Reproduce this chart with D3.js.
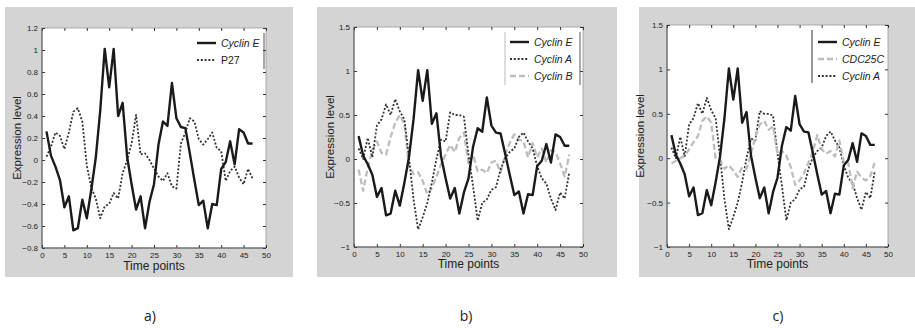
<!DOCTYPE html>
<html lang="en">
<head>
<meta charset="UTF-8">
<title>expression</title>
<script src="https://cdn.jsdelivr.net/npm/d3@7"></script>
<style>
  body { margin: 0; background: #fff; }
  svg { display: block; }
  text { font-family: "Liberation Sans", Arial, sans-serif; fill: #222; }
</style>
</head>
<body>
<svg width="915" height="328"></svg>
<script>
  // time index 1..47
  var timePoints = [1,2,3,4,5,6,7,8,9,10,11,12,13,14,15,16,17,18,19,20,21,22,23,24,25,26,27,28,29,30,
    31,32,33,34,35,36,37,38,39,40,41,42,43,44,45,46,47]

  var cyclinE = [0.26,0.04,-0.06,-0.18,-0.43,-0.33,-0.64,-0.62,-0.36,-0.53,-0.27,0.02,0.45,1.01,0.66,1.01,
    0.40,0.52,0.03,-0.22,-0.45,-0.33,-0.62,-0.38,-0.22,0.14,0.35,0.31,0.70,0.38,0.30,0.29,0.06,-0.18,
    -0.41,-0.37,-0.62,-0.40,-0.41,-0.08,-0.02,0.17,-0.04,0.28,0.25,0.15,0.15]

  var p27 = [0.03,0.12,0.25,0.22,0.10,0.25,0.44,0.47,0.35,-0.05,-0.25,-0.35,-0.53,-0.42,-0.40,-0.30,
    -0.35,-0.12,0.0,0.15,0.41,0.05,0.06,0.0,-0.08,-0.15,-0.19,-0.12,-0.24,-0.26,0.15,0.25,0.38,0.35,
    0.19,0.14,0.19,0.25,0.11,0.08,-0.19,-0.10,-0.06,-0.16,-0.22,-0.08,-0.17]

  var cyclinA = [0.12,0.0,0.24,0.02,0.38,0.45,0.62,0.50,0.68,0.54,0.45,0.02,-0.46,-0.80,-0.66,-0.50,
    -0.27,0.0,0.22,0.20,0.53,0.50,0.50,0.48,0.05,-0.31,-0.70,-0.50,-0.46,-0.35,-0.32,-0.12,0.01,0.08,
    0.12,0.25,0.30,0.20,0.12,-0.08,-0.22,-0.28,-0.45,-0.58,-0.38,-0.45,-0.15]

  var cyclinB = [-0.12,-0.36,-0.10,0.10,0.20,0.07,0.05,0.25,0.41,0.50,0.40,-0.08,-0.17,-0.15,-0.25,-0.40,
    -0.33,-0.20,-0.06,0.05,0.16,0.08,0.24,0.30,-0.05,0.05,-0.14,-0.12,-0.16,-0.04,-0.02,-0.15,0.05,0.18,
    0.28,0.22,0.20,0.02,0.18,0.02,0.12,-0.04,0.10,0.08,-0.05,-0.20,0.05]

  var cdc25c = [-0.06,-0.03,0.0,0.03,0.10,0.18,0.25,0.42,0.47,0.40,0.0,-0.02,-0.12,-0.08,-0.14,-0.21,
    -0.10,-0.12,0.05,0.24,0.38,0.42,0.32,0.36,0.05,0.08,0.03,-0.10,-0.30,-0.25,-0.17,-0.05,0.08,0.26,
    0.10,0.05,0.08,0.02,0.20,-0.05,-0.05,-0.34,-0.15,-0.22,-0.25,-0.20,-0.05]

  var xTicks = [0,5,10,15,20,25,30,35,40,45,50]
  var yTicksA = [-0.8,-0.6,-0.4,-0.2,0,0.2,0.4,0.6,0.8,1,1.2]
  var yTicksB = [-1,-0.5,0,0.5,1,1.5]

  var styles = {
    solid: {stroke: '#1a1a1a', width: 2.4, dash: null},
    dot:   {stroke: '#333', width: 1.8, dash: '2,1.8'},
    dash:  {stroke: '#bdbdbd', width: 2.3, dash: '6,3'}
  }

  var panels = [
    {bg: [5, 7, 288, 270], plot: [42, 28, 224, 220], yDomain: [-0.8, 1.2], yTicks: yTicksA,
     series: [['Cyclin E', cyclinE, 'solid', true], ['P27', p27, 'dot', false]],
     leg: {x: 197, y: 43, left: null, right: 264},
     xlabY: 258, titleY: 270, ylabX: 21, capX: 150},
    {bg: [317, 7, 300, 270], plot: [354, 27, 229, 220], yDomain: [-1, 1.5], yTicks: yTicksB,
     series: [['Cyclin E', cyclinE, 'solid', true], ['Cyclin A', cyclinA, 'dot', true], ['Cyclin B', cyclinB, 'dash', true]],
     leg: {x: 510, y: 42, left: 505, right: 580},
     xlabY: 254, titleY: 268, ylabX: 334, capX: 466},
    {bg: [639, 7, 276, 270], plot: [667, 25, 221, 222], yDomain: [-1, 1.5], yTicks: yTicksB,
     series: [['Cyclin E', cyclinE, 'solid', true], ['CDC25C', cdc25c, 'dash', true], ['Cyclin A', cyclinA, 'dot', true]],
     leg: {x: 818, y: 42, left: 812, right: null},
     xlabY: 254, titleY: 268, ylabX: 644, capX: 778}
  ]

  var svg = d3.select('svg')
  var fmt = d3.format('~g')

  panels.forEach(function (p, pi) {
    var g = svg.append('g')
    g.append('rect').attr('x', p.bg[0]).attr('y', p.bg[1]).attr('width', p.bg[2]).attr('height', p.bg[3])
      .attr('fill', '#d4d4d4')

    var px = p.plot[0], py = p.plot[1], pw = p.plot[2], ph = p.plot[3]
    var x = d3.scaleLinear().domain([0, 50]).range([px, px + pw])
    var y = d3.scaleLinear().domain(p.yDomain).range([py + ph, py])

    g.append('rect').attr('x', px).attr('y', py).attr('width', pw).attr('height', ph)
      .attr('fill', '#fff').attr('stroke', '#9a9a9a').attr('stroke-width', 0.8)

    // inward ticks on all four sides
    var axL = g.append('g').attr('transform', 'translate(' + px + ',0)')
      .call(d3.axisLeft(y).tickValues(p.yTicks).tickSize(-3).tickPadding(4).tickFormat(fmt))
    var axB = g.append('g').attr('transform', 'translate(0,' + (py + ph) + ')')
      .call(d3.axisBottom(x).tickValues(xTicks).tickSize(-3).tickPadding(5).tickFormat(fmt))
    var axR = g.append('g').attr('transform', 'translate(' + (px + pw) + ',0)')
      .call(d3.axisRight(y).tickValues(p.yTicks).tickSize(-3).tickFormat(''))
    var axT = g.append('g').attr('transform', 'translate(0,' + py + ')')
      .call(d3.axisTop(x).tickValues(xTicks).tickSize(-3).tickFormat(''))
    ;[axL, axB, axR, axT].forEach(function (a) {
      a.select('.domain').remove()
      a.selectAll('line').attr('stroke', '#333')
      a.selectAll('text').style('font-size', '8px').attr('fill', '#333')
    })
    axB.selectAll('text').attr('dy', '0.6em')
    g.append('line').attr('x1', px).attr('x2', px).attr('y1', py).attr('y2', py + ph).attr('stroke', '#555')
    g.append('line').attr('x1', px).attr('x2', px + pw).attr('y1', py + ph).attr('y2', py + ph).attr('stroke', '#555')

    var line = d3.line().x(function (d, i) { return x(timePoints[i]) }).y(function (d) { return y(d) })

    // draw light series first so black curve sits on top
    p.series.slice().reverse().forEach(function (s) {
      var st = styles[s[2]]
      g.append('path').datum(s[1]).attr('d', line).attr('fill', 'none')
        .attr('stroke', st.stroke).attr('stroke-width', st.width)
        .attr('stroke-dasharray', st.dash).attr('stroke-linejoin', 'round')
    })

    // legend
    var lg = g.append('g')
    p.series.forEach(function (s, i) {
      var st = styles[s[2]]
      var ly = p.leg.y + i * 17
      lg.append('line').attr('x1', p.leg.x).attr('x2', p.leg.x + 19).attr('y1', ly).attr('y2', ly)
        .attr('stroke', st.stroke).attr('stroke-width', st.width).attr('stroke-dasharray', st.dash)
      lg.append('text').attr('x', p.leg.x + 24).attr('y', ly).attr('dy', '0.35em')
        .style('font-size', '10.5px').style('font-style', s[3] ? 'italic' : 'normal').text(s[0])
    })
    var lh = p.series.length * 17 + 2
    if (p.leg.left != null)
      lg.append('line').attr('x1', p.leg.left).attr('x2', p.leg.left).attr('y1', py + 5).attr('y2', py + 5 + lh)
        .attr('stroke', pi === 2 ? '#333' : '#bbb').attr('stroke-width', 1)
    if (p.leg.right != null)
      lg.append('line').attr('x1', p.leg.right).attr('x2', p.leg.right).attr('y1', py + 5).attr('y2', py + 5 + lh)
        .attr('stroke', '#555').attr('stroke-width', 1)

    g.append('text').attr('x', px + pw / 2).attr('y', p.titleY).attr('text-anchor', 'middle')
      .style('font-size', '12px').text('Time points')
    g.append('text').attr('transform', 'translate(' + p.ylabX + ',' + (py + ph / 2) + ') rotate(-90)')
      .attr('text-anchor', 'middle').style('font-size', '11.5px').text('Expression  level')

    svg.append('text').attr('x', p.capX).attr('y', 321).attr('text-anchor', 'middle')
      .style('font-family', '"Open Sans", sans-serif').style('font-size', '14px')
      .text(['a)', 'b)', 'c)'][pi])
  })
</script>
</body>
</html>
